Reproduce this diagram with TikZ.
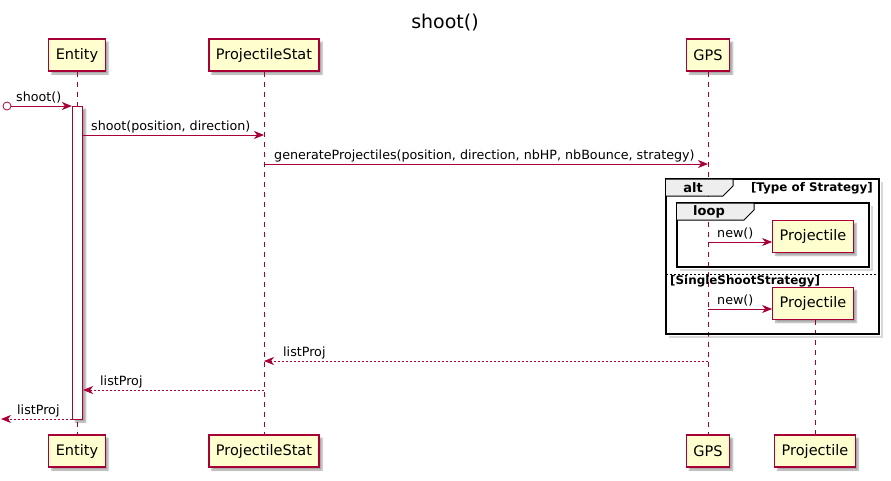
\documentclass[tikz,border=0pt]{standalone}
\usepackage{fontspec}
\setmainfont{DejaVu Sans}
\usetikzlibrary{positioning,arrows.meta,shadows.blur}
\definecolor{umlred}{HTML}{A80036}
\definecolor{umlfill}{HTML}{FEFECE}
\definecolor{tabgray}{HTML}{EEEEEE}
\tikzset{
  softshadow/.style={blur shadow={shadow xshift=3pt, shadow yshift=-3pt, shadow blur radius=1.5pt, shadow opacity=35}},
  part/.style={draw=umlred, fill=umlfill, line width=1.1pt, minimum height=32pt, inner xsep=7pt,
    font=\fontsize{14.5}{16}\selectfont, softshadow},
  lifeline/.style={umlred, line width=0.8pt, dash pattern=on 5pt off 5pt},
  actbar/.style={draw=umlred, fill=white, line width=0.8pt, minimum width=10.5pt, inner sep=0pt, softshadow},
  msg/.style={umlred, line width=0.8pt, -{Stealth[length=10pt, width=8pt, inset=3pt]}},
  retmsg/.style={msg, dash pattern=on 2pt off 2pt},
  lbl/.style={anchor=base west, inner sep=0pt, font=\fontsize{12.7}{14}\selectfont},
  fragbox/.style={draw=black, line width=1.5pt},
  fragtab/.style={draw=black, fill=tabgray, line width=1pt},
  fragtitle/.style={inner sep=0pt, font=\bfseries\fontsize{13}{14}\selectfont},
  guard/.style={inner sep=0pt, font=\bfseries\fontsize{11.9}{13}\selectfont},
}
\begin{document}
\begin{tikzpicture}[x=1pt, y=-1pt]
    \useasboundingbox (0,0) rectangle (891,480);

    % Title
    \node[font=\fontsize{19}{22}\selectfont] (title) at (445,23) {shoot()};

    % Participants (top and bottom)
    \node[part] (ent) at (77,55) {Entity};
    \node[part] (pstat) at (264,55) {ProjectileStat};
    \node[part] (gps) at (708,55) {GPS};
    \node[part] (ent-b) at (77,451) {Entity};
    \node[part] (pstat-b) at (264,451) {ProjectileStat};
    \node[part] (gps-b) at (708,451) {GPS};
    \node[part] (proj-b) at (815,451) {Projectile};

    % Created projectiles
    \node[part] (proj1) at (813,236.5) {Projectile};
    \node[part] (proj2) at (813,303.5) {Projectile};

    % Lifelines
    \draw[lifeline] (ent) -- (ent-b);
    \draw[lifeline] (pstat) -- (pstat-b);
    \draw[lifeline] (gps) -- (gps-b);
    \draw[lifeline] (proj2.south -| proj-b) -- (proj-b);

    % Activation of Entity
    \node[actbar, minimum height=313pt] (act) at (77.5,262.5) {};

    % alt fragment
    \draw[gray!60, line width=2pt, opacity=0.5] (881.5,182) -- (881.5,336.5) -- (669,336.5);
    \draw[fragbox] (666,179) rectangle (879,334);
    \draw[fragtab] (666,179) -- (733,179) -- (733,186) -- (723,196) -- (666,196);
    \node[fragtitle] (alt) at (693,188) {alt};
    \node[guard, anchor=east] (cond1) at (873,188) {[Type of Strategy]};
    \draw[black, line width=0.6pt, dash pattern=on 2pt off 2pt] (666,274) -- (879,274);
    \node[guard, anchor=west] (cond2) at (670,281) {[SingleShootStrategy]};

    % loop fragment
    \draw[gray!60, line width=2pt, opacity=0.5] (871.5,206) -- (871.5,269.5) -- (680,269.5);
    \draw[fragbox] (677,203) rectangle (869,267);
    \draw[fragtab] (677,203) -- (754,203) -- (754,210) -- (744,220) -- (677,220);
    \node[fragtitle] (loop) at (709,212) {loop};

    % Messages
    \node[draw=umlred, fill=white, circle, line width=0.8pt, minimum size=8pt, inner sep=0pt] (found) at (7,106) {};
    \coordinate (lost) at (1,419);

    \draw[msg] (found) -- (act.west |- found);
    \node[lbl] at (16,101) {shoot()};

    \draw[msg] (act.east |- 0,135) -- (pstat |- 0,135);
    \node[lbl] at (91,130) {shoot(position, direction)};

    \draw[msg] (pstat |- 0,164) -- (gps |- 0,164);
    \node[lbl] at (274,159) {generateProjectiles(position, direction, nbHP, nbBounce, strategy)};

    \draw[msg] (gps |- 0,242) -- (proj1.west |- 0,242);
    \node[lbl] at (717,237) {new()};

    \draw[msg] (gps |- 0,309) -- (proj2.west |- 0,309);
    \node[lbl] at (717,304) {new()};

    \draw[retmsg] (gps |- 0,361) -- (pstat |- 0,361);
    \node[lbl] at (283,356) {listProj};

    \draw[retmsg] (pstat |- 0,390) -- (act.east |- 0,390);
    \node[lbl] at (100,385) {listProj};

    \draw[retmsg] (act.west |- lost) -- (lost);
    \node[lbl] at (17,414) {listProj};
\end{tikzpicture}
\end{document}
